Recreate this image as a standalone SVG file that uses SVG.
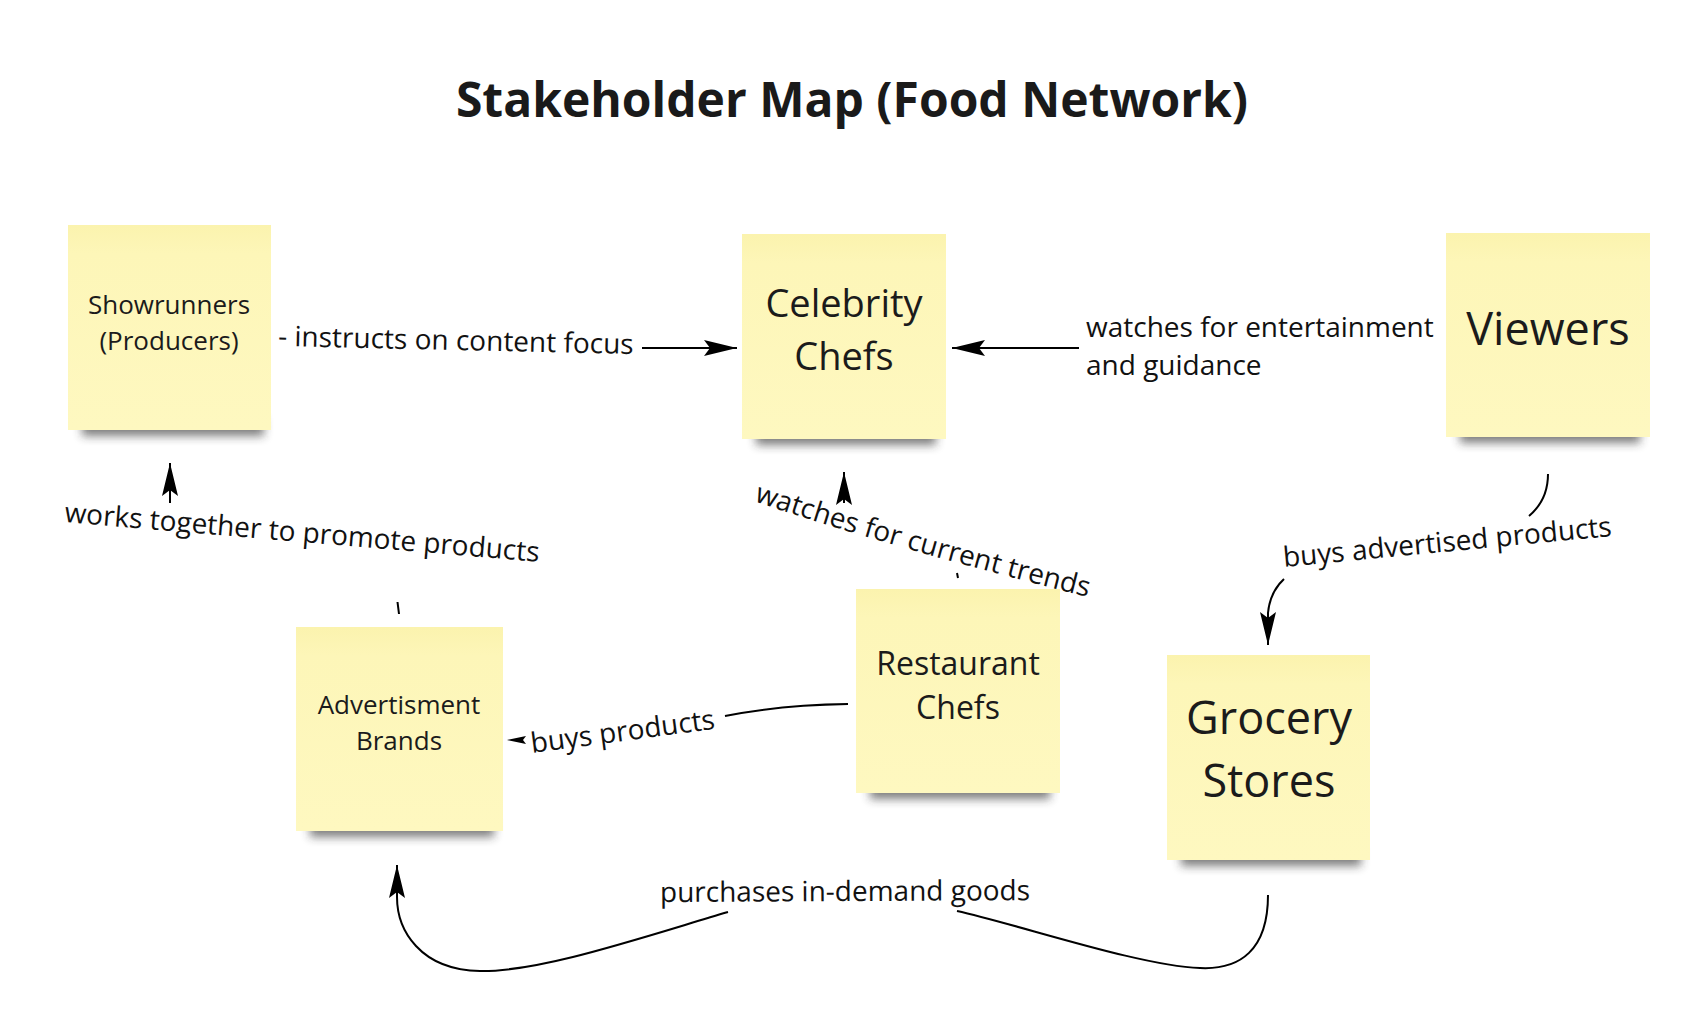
<svg xmlns="http://www.w3.org/2000/svg" width="1694" height="1036" viewBox="0 0 1694 1036">
<defs>
<linearGradient id="paper" x1="0" y1="0" x2="0" y2="1">
<stop offset="0" stop-color="#fbf3ae"/>
<stop offset="0.14" stop-color="#fdf6b8"/>
<stop offset="1" stop-color="#fef8c0"/>
</linearGradient>
<filter id="blur" x="-20%" y="-150%" width="140%" height="400%"><feGaussianBlur stdDeviation="5"/></filter>
<marker id="ah" markerUnits="userSpaceOnUse" markerWidth="40" markerHeight="20" viewBox="-36 -10 40 20" refX="0" refY="0" orient="auto"><path d="M0,0 L-33,-8 L-27,0 L-33,8 Z" fill="#000"/></marker>
<path id="trendPath" d="M754,501 Q884,546 1100,600" fill="none"/>
</defs>
<style>
.note{fill:url(#paper)}
.shadow{fill:#2a2a2a;opacity:.6;filter:url(#blur)}
.nt{font-family:"Open Sans","Noto Sans","DejaVu Sans",sans-serif;fill:#1b1b1b;text-anchor:middle}
.lb{font-family:"Open Sans","Noto Sans","DejaVu Sans",sans-serif;font-size:28px;fill:#111}
.ln{fill:none;stroke:#000;stroke-width:2}
.title{font-family:"Open Sans","Noto Sans","DejaVu Sans",sans-serif;font-size:48px;font-weight:700;fill:#1a1a1a;text-anchor:middle}
</style>
<rect x="0" y="0" width="1694" height="1036" fill="#ffffff"/>
<text class="title" x="852" y="117">Stakeholder Map (Food Network)</text>

<g id="node-showrunners">
<rect class="shadow" x="82" y="418" width="182" height="18"/>
<rect class="note" x="68" y="225" width="203" height="205"/>
<text class="nt" font-size="26" x="169" y="314">Showrunners</text>
<text class="nt" font-size="26" x="169" y="350">(Producers)</text>
</g>
<g id="node-celebrity-chefs">
<rect class="shadow" x="756" y="427" width="180" height="18"/>
<rect class="note" x="742" y="234" width="204" height="205"/>
<text class="nt" font-size="38" x="844" y="317">Celebrity</text>
<text class="nt" font-size="38" x="844" y="370">Chefs</text>
</g>
<g id="node-viewers">
<rect class="shadow" x="1460" y="425" width="180" height="18"/>
<rect class="note" x="1446" y="233" width="204" height="204"/>
<text class="nt" font-size="45" x="1548" y="345">Viewers</text>
</g>
<g id="node-advertisment-brands">
<rect class="shadow" x="310" y="819" width="184" height="18"/>
<rect class="note" x="296" y="627" width="207" height="204"/>
<text class="nt" font-size="26" x="399" y="714">Advertisment</text>
<text class="nt" font-size="26" x="399" y="750">Brands</text>
</g>
<g id="node-restaurant-chefs">
<rect class="shadow" x="870" y="781" width="180" height="18"/>
<rect class="note" x="856" y="589" width="204" height="204"/>
<text class="nt" font-size="32" x="958" y="675">Restaurant</text>
<text class="nt" font-size="32" x="958" y="719">Chefs</text>
</g>
<g id="node-grocery-stores">
<rect class="shadow" x="1181" y="848" width="180" height="18"/>
<rect class="note" x="1167" y="655" width="203" height="205"/>
<text class="nt" font-size="45" x="1269" y="734">Grocery</text>
<text class="nt" font-size="45" x="1269" y="797">Stores</text>
</g>

<g id="connectors">
<path class="ln" d="M642,348 L737,348" marker-end="url(#ah)"/>
<path class="ln" d="M1079,348 L952,348" marker-end="url(#ah)"/>
<path class="ln" d="M397.5,602 L399,614"/>
<path class="ln" d="M170,503 L170,463" marker-end="url(#ah)"/>
<path class="ln" d="M844,503 L844,472" marker-end="url(#ah)"/>
<path class="ln" d="M957,573 L958,578"/>
<path class="ln" d="M848,704 Q780,705 725,716"/>
<path d="M507,740 L526,736 L523,740 L526,744 Z" fill="#000"/>
<path class="ln" d="M1548,474 Q1548,500 1529,516"/>
<path class="ln" d="M1284,579 Q1270,592 1268,613 L1268,645" marker-end="url(#ah)"/>
<path class="ln" d="M1268,895 C1268,950 1240,970 1200,968 C1140,966 1020,925 957,911"/>
<path class="ln" d="M728,912 C640,938 540,972 480,971 C420,970 397,930 397,897 L397,865" marker-end="url(#ah)"/>
<text class="lb" x="278" y="346" transform="rotate(1.3 278 346)">- instructs on content focus</text>
<text class="lb" x="1086" y="337">watches for entertainment</text>
<text class="lb" x="1086" y="375">and guidance</text>
<text class="lb" x="64" y="522" transform="rotate(4.8 64 522)">works together to promote products</text>
<text class="lb"><textPath href="#trendPath">watches for current trends</textPath></text>
<text class="lb" x="532" y="753" transform="rotate(-7.5 532 753)">buys products</text>
<text class="lb" x="1284" y="567" transform="rotate(-5.4 1284 567)">buys advertised products</text>
<text class="lb" x="660" y="902" transform="rotate(-0.3 660 902)">purchases in-demand goods</text>
</g>
</svg>
